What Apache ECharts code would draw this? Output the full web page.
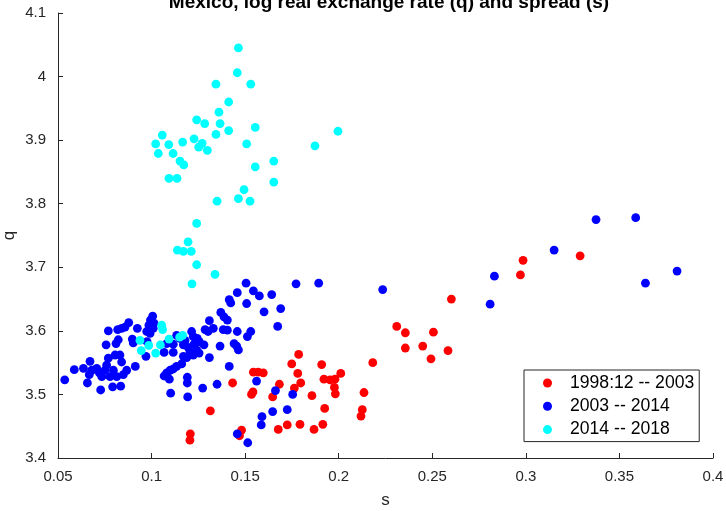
<!DOCTYPE html>
<html><head><meta charset="utf-8">
<script src="https://cdn.jsdelivr.net/npm/echarts@6/dist/echarts.min.js"></script>
<style>html,body{margin:0;padding:0;background:#fff}#c{width:726px;height:511px}</style>
</head><body><div id="c"></div>
<script>
const titleText = 'Mexico, log real exchange rate (q) and spread (s)';
const seriesNames = ['1998:12 -- 2003', '2003 -- 2014', '2014 -- 2018'];
const seriesColors = ['#ff0000', '#0000ff', '#00ffff'];

const redS = [0.1207,0.1205,0.1314,0.1433,0.1481,0.1470,0.1534,0.1542,0.1544,0.1570,0.1597,0.1647,0.1677,0.1683,0.1725,0.1749,0.1763,0.1781,0.1786,0.1797,0.1793,0.1857,0.1868,0.1909,0.1915,0.1921,0.1925,0.1954,0.1980,0.1977,0.1982,0.2011,0.2126,0.2119,0.2135,0.2182,0.2310,0.2356,0.2356,0.2449,0.2493,0.2506,0.2584,0.2602,0.2971,0.2985,0.3290];
const redQ = [3.438,3.428,3.474,3.518,3.444,3.435,3.500,3.504,3.535,3.535,3.534,3.496,3.445,3.516,3.452,3.548,3.510,3.533,3.563,3.518,3.453,3.498,3.445,3.547,3.453,3.524,3.478,3.523,3.524,3.511,3.501,3.533,3.476,3.466,3.503,3.550,3.607,3.597,3.573,3.576,3.556,3.598,3.569,3.650,3.688,3.711,3.718];

const blueS = [0.0536,0.0587,0.0636,0.0657,0.0671,0.0680,0.0667,0.0707,0.0721,0.0734,0.0728,0.0751,0.0760,0.0769,0.0778,0.0792,0.0796,0.0805,0.0814,0.0835,0.0840,0.0849,0.0867,0.0757,0.0769,0.0810,0.0822,0.0819,0.0840,0.0858,0.0878,0.0897,0.0902,0.0913,0.0924,0.0974,0.0986,0.0994,0.1006,0.0970,0.0992,0.0976,0.0831,0.1013,0.1009,
0.1214,0.1223,0.1244,0.1255,0.1280,0.1134,0.1152,0.1179,0.1081,0.1116,0.1170,0.1196,0.1227,0.1205,0.1223,0.1241,0.1254,0.1116,0.1067,0.1170,0.1188,0.1309,0.1161,0.1134,0.1116,0.1099,0.1081,0.1067,0.1095,0.1191,0.1191,0.1102,0.1193,0.1273,0.1350,0.1415,
0.1286,0.1302,0.1330,0.1309,0.1370,0.1387,0.1405,0.1383,0.1405,0.1458,0.1530,0.1512,0.1366,0.1441,0.1455,0.1464,0.1505,0.1458,0.1544,0.1576,0.1415,0.1423,0.1508,0.1601,0.1690,0.1674,0.1642,0.1772,0.1893,
0.1561,0.1662,0.1754,0.1725,0.1647,0.1590,0.1586,0.1458,0.1514,
0.2235,0.2832,0.2809,0.3151,0.3375,0.3587,0.3639,0.3808];
const blueQ = [3.523,3.539,3.541,3.518,3.552,3.538,3.531,3.541,3.534,3.528,3.507,3.538,3.546,3.557,3.528,3.512,3.538,3.562,3.528,3.513,3.551,3.531,3.538,3.578,3.600,3.580,3.586,3.602,3.604,3.606,3.613,3.587,3.581,3.544,3.604,3.599,3.609,3.617,3.623,3.560,3.596,3.583,3.562,3.612,3.604,
3.599,3.591,3.588,3.583,3.578,3.593,3.588,3.585,3.580,3.579,3.578,3.574,3.579,3.567,3.562,3.570,3.565,3.566,3.566,3.560,3.558,3.558,3.548,3.544,3.540,3.538,3.534,3.529,3.524,3.527,3.518,3.502,3.496,3.510,3.516,3.544,
3.602,3.599,3.604,3.616,3.629,3.622,3.617,3.602,3.601,3.599,3.599,3.591,3.576,3.580,3.576,3.570,3.675,3.660,3.663,3.655,3.649,3.644,3.643,3.630,3.635,3.607,3.657,3.674,3.675,
3.521,3.506,3.500,3.476,3.473,3.465,3.452,3.438,3.424,
3.665,3.686,3.642,3.727,3.775,3.778,3.675,3.694];

const cyanS = [0.1464,0.1458,0.1344,0.1530,0.1412,0.1360,0.1241,0.1284,0.1366,0.1554,0.1412,0.1344,0.1057,0.1227,0.1166,0.1022,0.1092,0.1270,0.1252,0.1508,0.1873,0.1036,0.1115,0.1298,0.1152,0.1172,0.1653,0.1554,0.1093,0.1136,0.1653,0.1494,0.1464,0.1526,0.1350,0.1241,0.1195,0.1138,0.1170,0.1212,0.1241,0.1339,0.1216,0.1054,0.1059,0.0938,0.0985,0.1047,0.1093,0.1150,0.1166,0.0945,0.1022,0.1996];
const cyanQ = [4.045,4.006,3.988,3.988,3.960,3.944,3.932,3.926,3.926,3.920,3.915,3.909,3.908,3.902,3.897,3.894,3.893,3.895,3.889,3.894,3.891,3.879,3.879,3.884,3.867,3.861,3.867,3.858,3.840,3.840,3.834,3.822,3.808,3.804,3.804,3.769,3.740,3.727,3.725,3.725,3.704,3.689,3.674,3.609,3.602,3.585,3.577,3.578,3.587,3.590,3.593,3.569,3.565,3.914];

const xTicks = [0.05, 0.1, 0.15, 0.2, 0.25, 0.3, 0.35, 0.4];
const yTicks = [3.4, 3.5, 3.6, 3.7, 3.8, 3.9, 4, 4.1];

function zip(a, b) { return a.map((v, i) => [v, b[i]]); }
const allData = [zip(redS, redQ), zip(blueS, blueQ), zip(cyanS, cyanQ)];

const FONT = '"Liberation Sans", Arial, Helvetica, sans-serif';
const axisCol = '#262626';

const chart = echarts.init(document.getElementById('c'), null, {renderer: 'canvas'});
chart.setOption({
  animation: false,
  backgroundColor: '#fff',
  title: {
    text: titleText, left: 384, textAlign: 'center', top: -12,
    textStyle: {fontFamily: FONT, fontSize: 19, fontWeight: 'bold', color: '#000'}
  },
  grid: {left: 58, right: 13, top: 13, bottom: 53, containLabel: false, outerBoundsMode: 'none'},
  legend: {
    orient: 'vertical', left: 524, top: 370,
    data: seriesNames,
    itemWidth: 9, itemHeight: 9, itemGap: 5.3,
    padding: [4, 5, 3, 19],
    backgroundColor: '#fff', borderColor: axisCol, borderWidth: 1, borderRadius: 0,
    textStyle: {fontFamily: FONT, fontSize: 17.6, color: '#000', lineHeight: 18, padding: [0, 0, 0, 13]}
  },
  xAxis: {
    type: 'value', min: xTicks[0], max: xTicks[xTicks.length - 1], interval: 0.05,
    name: 's', nameLocation: 'middle', nameGap: 34, nameMoveOverlap: false,
    nameTextStyle: {fontFamily: FONT, fontSize: 17, color: axisCol},
    axisLine: {show: true, onZero: false, lineStyle: {color: axisCol, width: 1}},
    axisTick: {show: true, inside: true, length: 5, lineStyle: {color: axisCol}},
    axisLabel: {fontFamily: FONT, fontSize: 15, color: axisCol, margin: 11,
      formatter: v => String(+v.toFixed(2))},
    splitLine: {show: false}
  },
  yAxis: {
    type: 'value', min: yTicks[0], max: yTicks[yTicks.length - 1], interval: 0.1,
    name: 'q', nameLocation: 'middle', nameGap: 40, nameMoveOverlap: false,
    nameTextStyle: {fontFamily: FONT, fontSize: 17, color: axisCol},
    axisLine: {show: true, onZero: false, lineStyle: {color: axisCol, width: 1}},
    axisTick: {show: true, inside: true, length: 5, lineStyle: {color: axisCol}},
    axisLabel: {fontFamily: FONT, fontSize: 15, color: axisCol, margin: 12,
      formatter: v => String(+v.toFixed(1))},
    splitLine: {show: false}
  },
  series: seriesNames.map((n, i) => ({
    name: n, type: 'scatter', data: allData[i], symbol: 'circle', symbolSize: 8.8,
    itemStyle: {color: seriesColors[i], opacity: 1}, z: 2 + i
  }))
});
</script>
</body></html>
